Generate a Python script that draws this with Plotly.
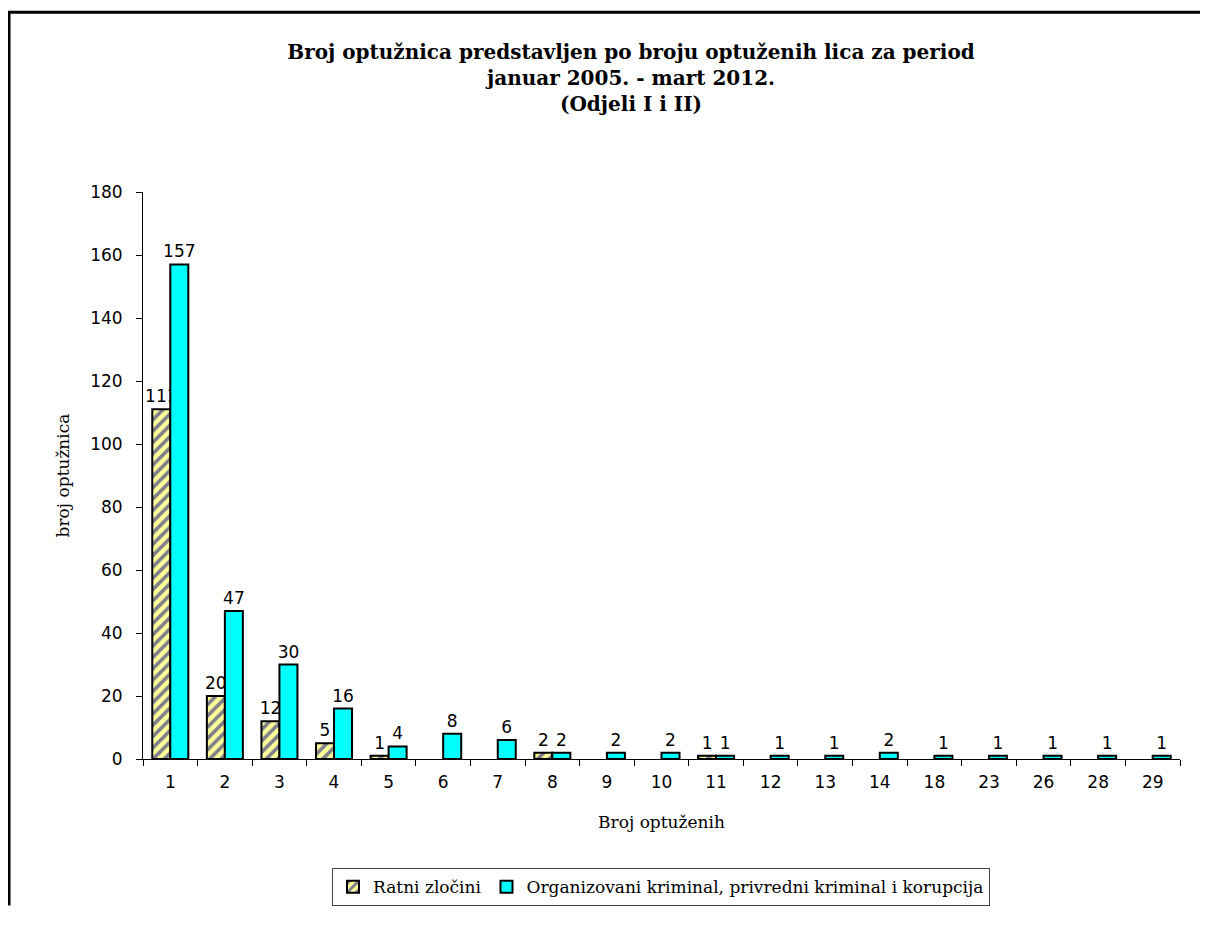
import plotly.graph_objects as go

categories = ["1", "2", "3", "4", "5", "6", "7", "8", "9", "10", "11", "12", "13", "14", "18", "23", "26", "28", "29"]
ratni = [111, 20, 12, 5, 1, None, None, 2, None, None, 1, None, None, None, None, None, None, None, None]
organizovani = [157, 47, 30, 16, 4, 8, 6, 2, 2, 2, 1, 1, 1, 2, 1, 1, 1, 1, 1]
y_ticks = [0, 20, 40, 60, 80, 100, 120, 140, 160, 180]

# page has an 8px body margin; figure coordinates = page coordinates - 8
OFF = 8
W, H = 1192, 910
L, R, T, B = 143 - OFF, 1180 - OFF, 192 - OFF, 769 - OFF
pw, ph = R - L, B - T


def px_x(p):
    return (p - L) / pw


def px_y(p):
    return (B - p) / ph


lbl_font = dict(family="DejaVu Sans", size=17, color="black")

fig = go.Figure()
fig.add_trace(go.Bar(
    x=categories, y=ratni, name="Ratni zločini",
    marker=dict(color="#FFFF99", line=dict(color="black", width=2),
                pattern=dict(shape="/", fgcolor="#000080", bgcolor="#FFFF99", size=8, solidity=0.45)),
    text=[str(v) if v is not None else "" for v in ratni],
    textposition="outside", textfont=lbl_font, cliponaxis=False,
))
fig.add_trace(go.Bar(
    x=categories, y=organizovani, name="Organizovani kriminal, privredni kriminal i korupcija",
    marker=dict(color="#00FFFF", line=dict(color="black", width=2)),
    text=[str(v) for v in organizovani],
    textposition="outside", textfont=lbl_font, cliponaxis=False,
))

fig.update_layout(
    width=W, height=H,
    margin=dict(l=L, r=W - R, t=T, b=H - B),
    paper_bgcolor="white", plot_bgcolor="white",
    barmode="group", bargap=0.34, bargroupgap=0.0,
    uniformtext=dict(minsize=17, mode="show"),
    title=dict(
        text="Broj optužnica predstavljen po broju optuženih lica za period<br>januar 2005. - mart 2012.<br>(Odjeli I i II)",
        font=dict(family="DejaVu Serif", size=20, color="black", weight="bold"),
        x=px_x(631 - OFF), xref="paper", xanchor="center", y=1 - 51 / H, yref="container", yanchor="top",
    ),
    font=dict(family="DejaVu Serif", color="black"),
    showlegend=True,
    legend=dict(
        orientation="h", x=px_x(661 - OFF), xanchor="center", y=px_y(880 - OFF), yanchor="top",
        bordercolor="#444444", borderwidth=1, bgcolor="white",
        font=dict(family="DejaVu Serif", size=17, color="black"),
        itemsizing="constant", traceorder="normal",
    ),
    xaxis=dict(
        type="category", showline=True, linecolor="black", linewidth=1,
        ticks="outside", tickson="boundaries", ticklen=6, tickcolor="black",
        tickfont=dict(family="DejaVu Sans", size=17, color="black"), ticklabelstandoff=8,
        showgrid=False, zeroline=False,
        title=dict(text="Broj optuženih", font=dict(family="DejaVu Serif", size=17, color="black"), standoff=24),
    ),
    yaxis=dict(
        range=[0, 180], tickvals=y_ticks, showline=True, linecolor="black", linewidth=1,
        ticks="outside", ticklen=6, tickcolor="black",
        tickfont=dict(family="DejaVu Sans", size=17, color="black"), ticklabelstandoff=10,
        showgrid=False, zeroline=False,
        title=dict(text="broj optužnica", font=dict(family="DejaVu Serif", size=17, color="black"), standoff=16),
    ),
    shapes=[
        dict(type="line", xref="paper", yref="paper", x0=px_x(0), x1=px_x(W), y0=px_y(1), y1=px_y(1),
             line=dict(color="black", width=3)),
        dict(type="line", xref="paper", yref="paper", x0=px_x(1), x1=px_x(1), y0=px_y(0), y1=px_y(H),
             line=dict(color="black", width=3)),
    ],
)

fig.write_html("out.html")
